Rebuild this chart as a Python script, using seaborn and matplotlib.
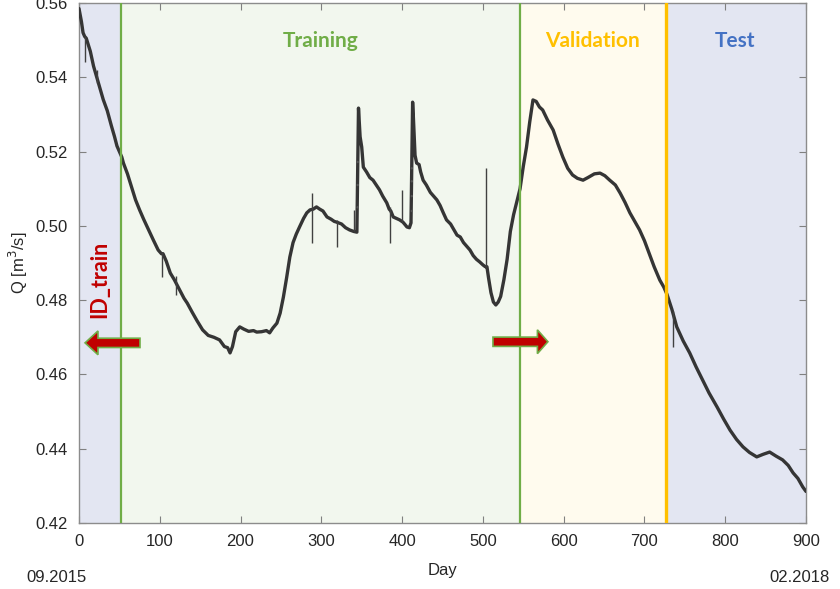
import numpy as np
import pandas as pd
import matplotlib
matplotlib.use("Agg")
import matplotlib.pyplot as plt
from matplotlib.patches import FancyArrow
import seaborn as sns

# Daily discharge series (day index, Q in m^3/s); NaN marks gaps in the record
days = [0, 3, 5, 7, 9, 14, 18, 22, 26, 30, 35, 40, 44, 47, 50, 53, 55, 60, 65, 70,
        75, 80, 86, 92, 98, 102, 104, 108, 113, 118, 124, 130, 134, 140, 146, 153,
        160, 167, 174, 180, 184, 187, 190, 194, 199, 204, 210, 216, 220, 226, 232, 236,
        240, 245, 249, 253, 257, 261, 265, 269, 273, 278, 282, 286, 290, 294,
        298, 302, 307, 312, 316, 319, 325, 330, 335, 340, 344,
        345,
        346, 347, 348, 350, 352, 356, 360, 364, 368, 372, 376, 381, 384, 386, 389,
        393, 397, 401, 403, 406, 409, 411,
        412,
        413, 414, 415, 416, 418, 421, 423, 426, 430, 435, 439, 443, 447, 451, 455, 460,
        464, 468, 472, 476, 480, 484, 488, 492, 496, 500, 503, 505, 507, 510, 513,
        516, 519, 522, 526, 530, 534, 538, 542, 546, 550, 554, 558, 562, 566, 570, 574,
        580, 587, 593, 599, 605, 611, 617, 624, 630, 638, 645, 651, 657, 664, 670, 676,
        682, 688, 694, 700, 706, 712, 719, 724, 728, 734, 740, 748, 756, 764, 772, 780,
        790, 798, 806, 814, 822, 830, 839, 847, 855, 863, 871, 878, 884, 890, 896, 900]
flow = [0.5585, 0.555, 0.552, 0.551, 0.5505, 0.547, 0.543, 0.540, 0.537, 0.534,
        0.531, 0.527, 0.524, 0.5215, 0.520, 0.5185, 0.5169, 0.514, 0.5105, 0.507,
        0.5043, 0.5018, 0.499, 0.4962, 0.4935, 0.4925, 0.4925, 0.4905, 0.4873,
        0.4855, 0.483, 0.4805, 0.4792, 0.4768, 0.4745, 0.472, 0.4705, 0.470, 0.4693,
        0.4675, 0.4672, 0.4658, 0.4675, 0.4715, 0.4728, 0.4722, 0.4716, 0.4718, 0.4714,
        0.4715, 0.4718, 0.4712, 0.4725, 0.4738, 0.4765, 0.4808, 0.486, 0.4916, 0.4955,
        0.4978, 0.4997, 0.502, 0.5035, 0.5043, 0.5045, 0.5051, 0.5045,
        0.504, 0.5024, 0.5018, 0.5012, 0.501, 0.5005, 0.4995, 0.4989,
        0.4985, 0.4983,
        np.nan,
        0.5317, 0.528, 0.524, 0.5212, 0.5158, 0.5145, 0.513, 0.5123, 0.511, 0.5097,
        0.508, 0.5062, 0.5045, 0.504, 0.5024, 0.502, 0.5016, 0.501,
        0.5005, 0.4997, 0.4995, 0.5008,
        np.nan,
        0.5333, 0.529, 0.524, 0.519, 0.5169, 0.5165, 0.5145, 0.5123, 0.511, 0.509,
        0.508, 0.507, 0.5055, 0.5035, 0.5016, 0.5005, 0.499, 0.4975, 0.497, 0.4955,
        0.4945, 0.4935, 0.492, 0.491, 0.4903, 0.4895, 0.489, 0.489, 0.486,
        0.482, 0.4795, 0.4787, 0.4795, 0.481, 0.4855, 0.491, 0.4985, 0.503, 0.5065,
        0.510, 0.516, 0.5212, 0.528, 0.5339, 0.5335, 0.532, 0.5312, 0.5285, 0.5258,
        0.522, 0.5185, 0.5155, 0.5137, 0.5128, 0.5123, 0.513, 0.514, 0.5142, 0.5135,
        0.5123, 0.511, 0.5088, 0.5063, 0.5035, 0.5012, 0.4989, 0.496, 0.4925, 0.489,
        0.4854, 0.4835, 0.4815, 0.4775, 0.4728, 0.469, 0.4658, 0.462, 0.4585, 0.455,
        0.4512, 0.448, 0.445, 0.4425, 0.4405, 0.439, 0.4378, 0.4385, 0.4391, 0.438,
        0.437, 0.4355, 0.4335, 0.432, 0.4297, 0.4285]

# Short-lived outliers: day, lowest and highest reading
spike_day = [8, 22, 103, 120, 288, 320, 341, 385, 400, 504, 735]
spike_low = [0.5440, 0.5385, 0.4862, 0.4815, 0.4954, 0.4943, 0.4985, 0.4954, 0.5010,
             0.4890, 0.4674]
spike_high = [0.5510, 0.5420, 0.4930, 0.4865, 0.5088, 0.5015, 0.5043, 0.5050, 0.5097,
              0.5155, 0.4770]

# Isolated readings inside the two record gaps
gap_days = [345, 345, 345, 412, 412, 412, 412]
gap_flow = [0.5172, 0.511, 0.505, 0.5155, 0.512, 0.508, 0.504]

# Period boundaries (day) and labels
train_start, val_start, test_start = 52, 546, 727
period_labels = ["Training", "Validation", "Test"]
start_label, end_label = "09.2015", "02.2018"

xticks = [0, 100, 200, 300, 400, 500, 600, 700, 800, 900]
yticks = [0.42, 0.44, 0.46, 0.48, 0.50, 0.52, 0.54, 0.56]

df = pd.DataFrame({"Day": days, "Q": flow})
gaps = pd.DataFrame({"Day": gap_days, "Q": gap_flow})

sns.set_style("ticks")
plt.rcParams["font.family"] = ["Liberation Sans", "DejaVu Sans"]

fig = plt.figure(figsize=(8.4, 5.89), dpi=100)
ax = fig.add_axes([79 / 840, 1 - 523 / 589, 727 / 840, 520 / 589])

# Background shading for each period
ax.axvspan(0, train_start, color="#e3e6f2", lw=0, zorder=0)
ax.axvspan(train_start, val_start, color="#f2f7ee", lw=0, zorder=0)
ax.axvspan(val_start, test_start, color="#fffbee", lw=0, zorder=0)
ax.axvspan(test_start, 900, color="#e3e6f2", lw=0, zorder=0)

sns.lineplot(data=df, x="Day", y="Q", ax=ax, color="#353535", lw=2.4, zorder=3)
ax.vlines(spike_day, spike_low, spike_high, color="#404040", lw=1.0, zorder=3)
sns.scatterplot(data=gaps, x="Day", y="Q", ax=ax, color="#555555", s=3,
                edgecolor="none", zorder=3)

ax.axvline(train_start, color="#70ad47", lw=1.6, zorder=4)
ax.axvline(val_start, color="#70ad47", lw=1.6, zorder=4)
ax.axvline(test_start, color="#ffc000", lw=2.4, zorder=4)

ax.set_xlim(0, 900)
ax.set_ylim(0.42, 0.56)
ax.set_xticks(xticks)
ax.set_yticks(yticks)
ax.set_xticklabels([str(t) for t in xticks])
ax.set_yticklabels([f"{t:.2f}" for t in yticks])
ax.tick_params(direction="in", length=5, width=0.8, color="#808080",
               top=True, right=True, labelsize=12, pad=8)
for s in ax.spines.values():
    s.set_color("#8c8c8c")
    s.set_linewidth(1.0)

ax.set_xlabel("Day", fontsize=12, labelpad=10)
ax.set_ylabel("Q [m$^3$/s]", fontsize=12, labelpad=4)

title_font = ["Lato", "DejaVu Sans"]
ax.text(299, 0.5498, period_labels[0], color="#70ad47", fontsize=15,
        fontweight="bold", ha="center", va="center", family=title_font)
ax.text(636, 0.5498, period_labels[1], color="#ffc000", fontsize=15,
        fontweight="bold", ha="center", va="center", family=title_font)
ax.text(812, 0.5498, period_labels[2], color="#4472c4", fontsize=15,
        fontweight="bold", ha="center", va="center", family=title_font)

ax.text(26, 0.4855, "ID_train", color="#c00000", fontsize=15.5, fontweight="bold",
        rotation=90, ha="center", va="center", family=title_font, zorder=5)

# Arrows showing how the training window moves
ax.add_patch(FancyArrow(75.5, 0.4685, -68, 0, width=0.0025, head_width=0.0064,
                        head_length=16, length_includes_head=True,
                        fc="#c00000", ec="#70ad47", lw=1.2, zorder=5))
ax.add_patch(FancyArrow(512.5, 0.4688, 68, 0, width=0.0025, head_width=0.0064,
                        head_length=13, length_includes_head=True,
                        fc="#c00000", ec="#70ad47", lw=1.2, zorder=5))

fig.text(57 / 840, 1 - 577 / 589, start_label, fontsize=12, ha="center", va="center")
fig.text(800 / 840, 1 - 577 / 589, end_label, fontsize=12, ha="center", va="center")

fig.savefig("out.png", dpi=100)
